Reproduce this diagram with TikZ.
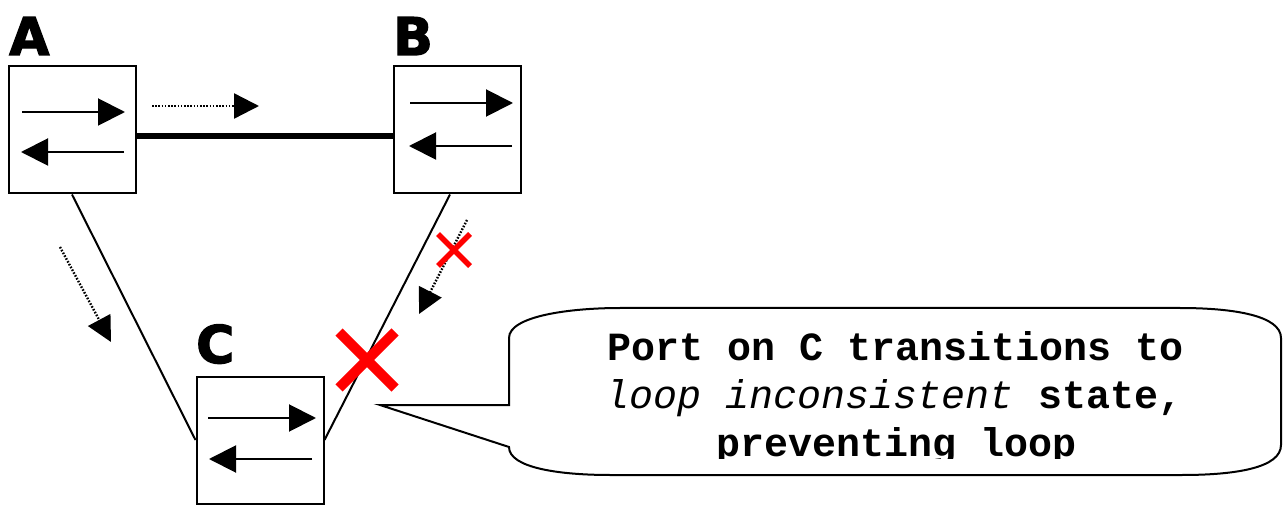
\documentclass[tikz,border=0pt]{standalone}
\usepackage{fontspec}
\newfontfamily\notefont{Liberation Mono}
\newfontfamily\labfont[BoldFeatures={FakeBold=2.5}]{DejaVu Sans}
\usetikzlibrary{arrows.meta,calc}
\begin{document}
\begin{tikzpicture}[x=1pt,y=-1pt,
  box/.style={draw,line width=2pt,minimum width=127pt,minimum height=127pt,inner sep=0pt},
  sw/.style={line width=2pt,-{Triangle[length=27pt,width=27pt]}},
  dotarrow/.style={line width=2.4pt,dash pattern=on 1.6pt off 1.6pt,-{Triangle[length=25pt,width=25pt]}},
  link/.style={line width=2pt},
  trunk/.style={line width=6pt},
  lab/.style={font=\labfont\bfseries\fontsize{52}{52}\selectfont,inner sep=0pt,anchor=base west},
  redx/.style={red,line width=#1},
  note/.style={font=\notefont\fontsize{40}{48}\selectfont,inner sep=0pt,anchor=base},
  callout/.style={draw,line width=2pt}
]
\useasboundingbox (0,0) rectangle (1286,505);

% switches
\node[box] (A) at (72,130) {};
\node[box] (B) at (457,130) {};
\node[box] (C) at (260,440) {};

\node[lab] (la) at (9,55) {A};
\node[lab] (lb) at (393,55) {B};
\node[lab] (lc) at (196,363) {C};

% port arrows inside switches
\draw[sw] ($(A)+(-50,-18)$) -- ($(A)+(53,-18)$);
\draw[sw] ($(A)+(52,22)$) -- ($(A)+(-51,22)$);
\draw[sw] ($(B)+(-47,-27)$) -- ($(B)+(56,-27)$);
\draw[sw] ($(B)+(55,16)$) -- ($(B)+(-48,16)$);
\draw[sw] ($(C)+(-52,-22)$) -- ($(C)+(56,-22)$);
\draw[sw] ($(C)+(52,19)$) -- ($(C)+(-51,19)$);

% links
\draw[trunk] ([yshift=-6pt]A.east) -- ([yshift=-6pt]B.west);
\draw[link] (A.south) -- (C.west);
\draw[link] ([xshift=-7pt]B.south) -- (C.east);

% BPDU flow arrows
\coordinate (ab1) at (152,106);
\coordinate (ab2) at (259,106);
\draw[dotarrow] (ab1) -- (ab2);
\coordinate (ac1) at (60,247);
\coordinate (ac2) at (111,342);
\draw[dotarrow] (ac1) -- (ac2);
\coordinate (bc1) at (467,220);
\coordinate (bc2) at (419,314);
\draw[dotarrow] (bc1) -- (bc2);

% red crosses
\coordinate (sx) at (454,250);
\draw[redx=5.5pt] ($(sx)+(-16,-16)$) -- ($(sx)+(16,16)$);
\draw[redx=5.5pt] ($(sx)+(-16,16)$) -- ($(sx)+(16,-16)$);
\coordinate (bx) at (367,360);
\draw[redx=10pt] ($(bx)+(-28,-28)$) -- ($(bx)+(28,28)$);
\draw[redx=10pt] ($(bx)+(-28,28)$) -- ($(bx)+(28,-28)$);

% callout
\coordinate (tip) at (380,405);
\draw[callout] (tip) -- (509,405) -- (509,338)
  .. controls (509,316) and (570,308) .. (620,308) -- (1180,308)
  .. controls (1235,308) and (1281,316) .. (1281,338) -- (1281,445)
  .. controls (1281,468) and (1235,475) .. (1182,475) -- (610,475)
  .. controls (560,475) and (509,468) .. (509,447) -- cycle;

\begin{scope}
\clip (500,300) rectangle (1290,458.5);
\node[note] (t1) at (896,360) {\bfseries Port on C transitions to};
\node[note] (t2) at (894,408) {\itshape loop inconsistent\/ \bfseries\upshape state,};
\node[note] (t3) at (897,456) {\bfseries preventing loop};
\end{scope}
\end{tikzpicture}
\end{document}
